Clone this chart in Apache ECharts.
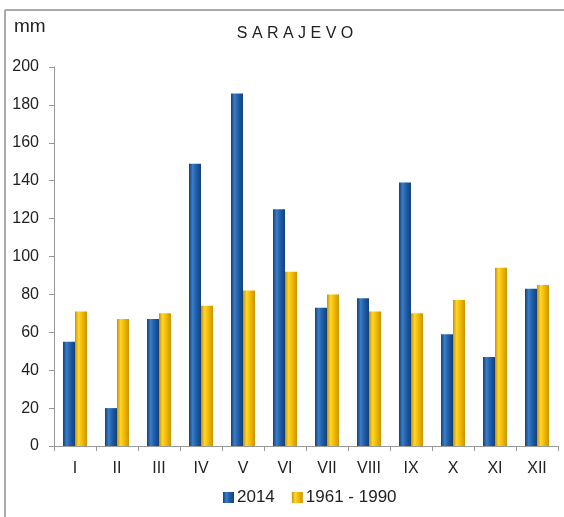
<!DOCTYPE html>
<html>
<head>
<meta charset="utf-8">
<script src="https://cdn.jsdelivr.net/npm/echarts@6/dist/echarts.min.js"></script>
<style>
  html, body { margin: 0; padding: 0; background: #fff; }
  #main { width: 564px; height: 517px; }
</style>
</head>
<body>
<div id="main"></div>
<script>
// months
var months = ['I', 'II', 'III', 'IV', 'V', 'VI', 'VII', 'VIII', 'IX', 'X', 'XI', 'XII'];
// precipitation 2014, mm
var rain2014 = [55, 20, 67, 149, 186, 125, 73, 78, 139, 59, 47, 83];
// average 1961 - 1990, mm
var rainAvg = [71, 67, 70, 74, 82, 92, 80, 71, 70, 77, 94, 85];
var yTicks = [0, 200, 20];

function barGrad(dark, mid, light) {
    return new echarts.graphic.LinearGradient(0, 0, 1, 0, [
        {offset: 0, color: dark},
        {offset: 0.3, color: light},
        {offset: 0.6, color: mid},
        {offset: 1, color: dark}
    ]);
}

var dom = document.getElementById('main');
var myChart = echarts.init(dom);
var option = {
    animation: false,
    textStyle: {fontFamily: 'Liberation Sans, Arial, sans-serif'},
    title: {
        text: 'S A R A J E V O',
        left: 296,
        top: 21,
        textAlign: 'center',
        textStyle: {fontSize: 16, fontWeight: 'normal', color: '#222'}
    },
    graphic: [
        {type: 'text', left: 14, top: 17, style: {text: 'mm', fontSize: 19, fill: '#222', fontFamily: 'Liberation Sans, Arial, sans-serif'}},
        {type: 'line', shape: {x1: 5, y1: 10, x2: 564, y2: 10}, style: {stroke: '#aaa', lineWidth: 2}},
        {type: 'line', shape: {x1: 5, y1: 10, x2: 5, y2: 517}, style: {stroke: '#aaa', lineWidth: 2}}
    ],
    legend: {
        bottom: 6,
        left: 218,
        itemWidth: 11,
        itemHeight: 11,
        itemGap: 17,
        icon: 'rect',
        textStyle: {fontSize: 17, color: '#222', padding: [0, 0, 0, -2]},
        data: ['2014', '1961 - 1990']
    },
    grid: {left: 54, right: 6, top: 67, bottom: 71, containLabel: false},
    xAxis: {
        type: 'category',
        data: months,
        axisLine: {lineStyle: {color: '#999'}},
        axisTick: {show: true, length: 5, lineStyle: {color: '#999'}},
        axisLabel: {color: '#222', fontSize: 16, margin: 15}
    },
    yAxis: {
        type: 'value',
        min: yTicks[0],
        max: yTicks[1],
        interval: yTicks[2],
        axisLine: {show: true, lineStyle: {color: '#999'}},
        axisTick: {show: true, length: 5, lineStyle: {color: '#999'}},
        splitLine: {show: false},
        axisLabel: {color: '#222', fontSize: 16, margin: 15}
    },
    series: [
        {
            name: '2014',
            type: 'bar',
            data: rain2014,
            barWidth: 12,
            barGap: '0%',
            itemStyle: {color: barGrad('#14407a', '#1f5ea8', '#3b7cc8')}
        },
        {
            name: '1961 - 1990',
            type: 'bar',
            data: rainAvg,
            barWidth: 12,
            barGap: '0%',
            itemStyle: {color: barGrad('#c99400', '#f2bb00', '#ffd52e')}
        }
    ]
};
option.title.left = 290;
myChart.setOption(option);
</script>
</body>
</html>
